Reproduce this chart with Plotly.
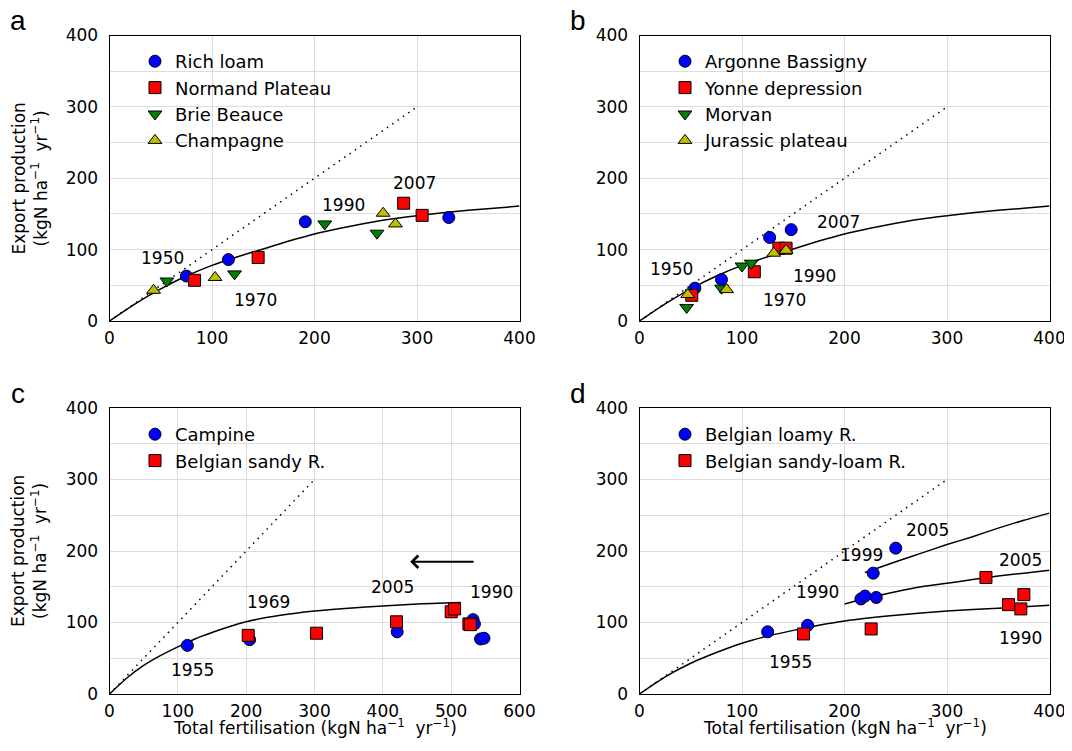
import plotly.graph_objects as go

# The page body adds an 8px offset, so the figure is drawn 8px smaller and
# all paper positions are computed relative to that offset.
OFF = 8
W, H = 1072 - OFF, 751 - OFF

# ---------------- data ----------------
# panel a
a_rich_x = [75, 116, 191, 331]
a_rich_y = [63, 86, 139, 145]
a_norm_x = [83, 145, 287, 305]
a_norm_y = [57, 89, 165, 148]
a_brie_x = [56, 122, 210, 261]
a_brie_y = [56, 66, 136, 123]
a_champ_x = [43, 103, 267, 279]
a_champ_y = [43, 61, 151, 136]

# panel b
b_arg_x = [54, 80, 127, 148]
b_arg_y = [46, 58, 117, 128]
b_yon_x = [51, 112, 136, 143]
b_yon_y = [36, 69, 102, 102]
b_mor_x = [46, 80, 100, 109]
b_mor_y = [19, 46, 77, 81]
b_jur_x = [47, 85, 131, 143]
b_jur_y = [37, 44, 95, 99]

# panel c
c_camp_x = [114, 205, 421, 532, 534, 543, 548]
c_camp_y = [68, 76, 87, 104, 98, 77, 78]
c_sandy_x = [203, 303, 420, 500, 505, 526, 528]
c_sandy_y = [82, 85, 101, 115, 119, 98, 97]

# panel d
d_loamy_x = [125, 164, 216, 220, 231, 228, 250]
d_loamy_y = [87, 96, 133, 137, 135, 169, 204]
d_sloam_x = [160, 226, 338, 360, 375, 372]
d_sloam_y = [84, 91, 163, 125, 139, 119]

# model curves
ab_curve_x = [0, 25, 50, 75, 100, 125, 150, 175, 200, 225, 250, 275, 300, 325, 350, 375, 400]
ab_curve_y = [0, 24, 45, 63, 78, 90, 101, 112, 122, 130, 137, 143, 147.5, 151.5, 155, 158, 161]
c_curve_x = [0, 25, 50, 75, 100, 125, 150, 175, 200, 250, 300, 350, 400, 450, 514]
c_curve_y = [0, 22, 40, 54, 66, 77, 86, 94, 101, 110, 116, 120, 123, 126, 128]
d_low_x = [0, 25, 50, 75, 100, 125, 150, 175, 200, 250, 300, 350, 400]
d_low_y = [0, 24, 43, 58, 71, 81, 89, 96, 102, 110, 116, 120, 124]
d_mid_x = [200, 225, 250, 275, 300, 325, 350, 375, 400]
d_mid_y = [126, 135, 143, 150, 155, 160, 165, 169, 173]
d_up_x = [220, 250, 275, 300, 325, 350, 375, 400]
d_up_y = [170, 185, 197, 209, 220, 232, 243, 253]
one_to_one = [0, 300]

# ---------------- styling ----------------
FONT = "DejaVu Sans"
BLUE, RED, GREEN, YEL = "#0000ff", "#ff0000", "#007f00", "#bfbf00"

def px2x(p):
    return (p - OFF) / W

def px2y(p):
    return 1 - (p - OFF) / H

dom = {
    "a": ([px2x(109.5), px2x(519.5)], [px2y(321), px2y(35.5)]),
    "b": ([px2x(639.5), px2x(1049.5)], [px2y(321), px2y(35.5)]),
    "c": ([px2x(109.5), px2x(519.5)], [px2y(694), px2y(408)]),
    "d": ([px2x(639.5), px2x(1049.5)], [px2y(694), px2y(408)]),
}

fig = go.Figure()

def pts(x, y, name, color, symbol, xa, ya, leg, size=12):
    fig.add_trace(go.Scatter(
        x=x, y=y, mode="markers", name=name, legend=leg,
        xaxis=xa, yaxis=ya,
        marker=dict(color=color, symbol=symbol, size=size,
                    line=dict(color="black", width=1)),
    ))

def line(x, y, xa, ya, dash="solid", width=1.5):
    fig.add_trace(go.Scatter(
        x=x, y=y, mode="lines", showlegend=False, xaxis=xa, yaxis=ya,
        line=dict(color="black", width=width, dash=dash, shape="spline", smoothing=0.6),
        hoverinfo="skip",
    ))

DOT = "1.5px,5px"

# panel a
line(one_to_one, one_to_one, "x", "y", dash=DOT, width=1.5)
line(ab_curve_x, ab_curve_y, "x", "y")
pts(a_rich_x, a_rich_y, "Rich loam", BLUE, "circle", "x", "y", "legend")
pts(a_norm_x, a_norm_y, "Normand Plateau", RED, "square", "x", "y", "legend")
pts(a_brie_x, a_brie_y, "Brie Beauce", GREEN, "triangle-down", "x", "y", "legend")
pts(a_champ_x, a_champ_y, "Champagne", YEL, "triangle-up", "x", "y", "legend")

# panel b
line(one_to_one, one_to_one, "x2", "y2", dash=DOT, width=1.5)
line(ab_curve_x, ab_curve_y, "x2", "y2")
pts(b_arg_x, b_arg_y, "Argonne Bassigny", BLUE, "circle", "x2", "y2", "legend2")
pts(b_yon_x, b_yon_y, "Yonne depression", RED, "square", "x2", "y2", "legend2")
pts(b_mor_x, b_mor_y, "Morvan", GREEN, "triangle-down", "x2", "y2", "legend2")
pts(b_jur_x, b_jur_y, "Jurassic plateau", YEL, "triangle-up", "x2", "y2", "legend2")

# panel c
line(one_to_one, one_to_one, "x3", "y3", dash=DOT, width=1.5)
line(c_curve_x, c_curve_y, "x3", "y3")
pts(c_camp_x, c_camp_y, "Campine", BLUE, "circle", "x3", "y3", "legend3")
pts(c_sandy_x, c_sandy_y, "Belgian sandy R.", RED, "square", "x3", "y3", "legend3")

# panel d
line(one_to_one, one_to_one, "x4", "y4", dash=DOT, width=1.5)
line(d_low_x, d_low_y, "x4", "y4")
line(d_mid_x, d_mid_y, "x4", "y4")
line(d_up_x, d_up_y, "x4", "y4")
pts(d_loamy_x, d_loamy_y, "Belgian loamy R.", BLUE, "circle", "x4", "y4", "legend4")
pts(d_sloam_x, d_sloam_y, "Belgian sandy-loam R.", RED, "square", "x4", "y4", "legend4")

axis_common = dict(
    showline=True, linecolor="black", linewidth=1, mirror=True,
    showgrid=True, gridcolor="#dcdcdc", gridwidth=1,
    zeroline=False, ticks="", tickfont=dict(family=FONT, size=17, color="black"),
    automargin=False,
)

layout = dict(
    width=W, height=H, margin=dict(l=0, r=0, t=0, b=0, pad=0, autoexpand=False),
    paper_bgcolor="white", plot_bgcolor="white",
    font=dict(family=FONT, size=17, color="black"),
)

axes = [("", "a", 400), ("2", "b", 400), ("3", "c", 600), ("4", "d", 400)]
for suf, key, xmax in axes:
    xd, yd = dom[key]
    layout["xaxis" + suf] = dict(axis_common, domain=xd, range=[0, xmax], dtick=100,
                                 anchor="y" + suf, ticklabelstandoff=2)
    layout["yaxis" + suf] = dict(axis_common, domain=yd, range=[0, 400], dtick=100,
                                 anchor="x" + suf, ticklabelstandoff=7,
                                 minor=dict(dtick=50, showgrid=True, gridcolor="#dcdcdc",
                                            gridwidth=1, ticks=""))

leg_common = dict(bgcolor="rgba(0,0,0,0)", borderwidth=0, xanchor="left", yanchor="top",
                  font=dict(family=FONT, size=18, color="black"), tracegroupgap=0,
                  itemwidth=30)
layout["legend"] = dict(leg_common, x=px2x(135), y=px2y(43))
layout["legend2"] = dict(leg_common, x=px2x(665), y=px2y(43))
layout["legend3"] = dict(leg_common, x=px2x(135), y=px2y(416))
layout["legend4"] = dict(leg_common, x=px2x(665), y=px2y(416))

fig.update_layout(**layout)

ann = []
def lab(text, x, y, xr, yr, size=17):
    ann.append(dict(text=text, x=x, y=y, xref=xr, yref=yr, showarrow=False,
                    xanchor="center", yanchor="middle",
                    font=dict(family=FONT, size=size, color="black")))

# year labels
lab("1950", 52, 88, "x", "y"); lab("1970", 142, 29, "x", "y")
lab("1990", 228, 163, "x", "y"); lab("2007", 298, 194, "x", "y")
lab("1950", 31, 73, "x2", "y2"); lab("1970", 141, 29, "x2", "y2")
lab("1990", 171, 63, "x2", "y2"); lab("2007", 194, 139, "x2", "y2")
lab("1955", 122, 33, "x3", "y3"); lab("1969", 232, 128, "x3", "y3")
lab("2005", 414, 149, "x3", "y3"); lab("1990", 559, 142, "x3", "y3")
lab("1955", 147, 45, "x4", "y4"); lab("1990", 174, 143, "x4", "y4")
lab("1999", 217, 194, "x4", "y4"); lab("2005", 281, 229, "x4", "y4")
lab("2005", 372, 188, "x4", "y4"); lab("1990", 372, 79, "x4", "y4")

# panel letters
for t, x, y in [("a", 18, 20), ("b", 578, 20), ("c", 18, 393), ("d", 578, 393)]:
    ann.append(dict(text=t, x=px2x(x), y=px2y(y), xref="paper", yref="paper",
                    showarrow=False, xanchor="center", yanchor="middle",
                    font=dict(family="Liberation Sans", size=28, color="black")))

# axis titles
ytitle = "Export production<br>(kgN ha<sup>−1</sup>  yr<sup>−1</sup>)"
for yc in [178.5, 551]:
    ann.append(dict(text=ytitle, x=px2x(29), y=px2y(yc), xref="paper", yref="paper",
                    showarrow=False, textangle=-90, xanchor="center", yanchor="middle",
                    font=dict(family=FONT, size=17, color="black")))
xtitle = "Total fertilisation (kgN ha<sup>−1</sup>  yr<sup>−1</sup>)"
for xc in [314.5, 844.5]:
    ann.append(dict(text=xtitle, x=px2x(xc), y=px2y(727), xref="paper", yref="paper",
                    showarrow=False, xanchor="center", yanchor="middle",
                    font=dict(family=FONT, size=17, color="black")))

# arrow in panel c
ann.append(dict(x=440, y=185, ax=535, ay=185, xref="x3", yref="y3", axref="x3", ayref="y3",
                text="", showarrow=True, arrowhead=4, arrowsize=1.2, arrowwidth=2,
                arrowcolor="black"))

fig.update_layout(annotations=ann)
fig.write_html("out.html")
